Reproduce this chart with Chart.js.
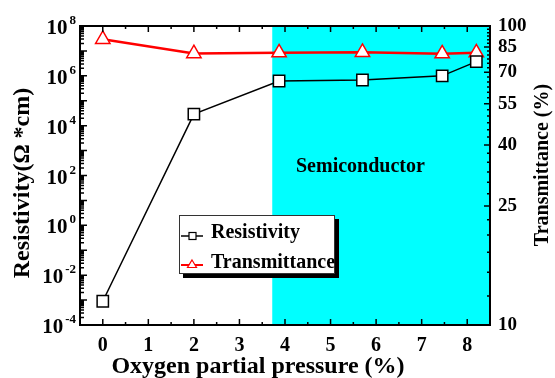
<!DOCTYPE html>
<html>
<head>
<meta charset="utf-8">
<script src="https://cdn.jsdelivr.net/npm/chart.js@4.4.1/dist/chart.umd.min.js"></script>
<style>
  html, body { margin: 0; padding: 0; background: #fff; }
</style>
</head>
<body>
<canvas id="chart" width="555" height="378"></canvas>
<script>
// values
const oxygen = [0, 2, 3.87, 5.7, 7.45, 8.2];                     // O2 partial pressure (%)
const resistivity = [9e-4, 2.9e4, 6.2e5, 6.8e5, 1.0e6, 3.7e6];   // Ohm*cm
const transmittance = [90.3, 80.9, 81.4, 81.7, 80.8, 81.4];      // %
const xTicks = [0, 1, 2, 3, 4, 5, 6, 7, 8];
const leftExponents = [-4, -2, 0, 2, 4, 6, 8];
const rightTicks = [10, 25, 40, 55, 70, 85, 100];
const semiconductorFrom = 3.72;

const FAMILY = "'Liberation Serif', 'Times New Roman', serif";
function font(size) { return 'bold ' + size + 'px ' + FAMILY; }

function line(ctx, x1, y1, x2, y2) {
    ctx.moveTo(x1, y1);
    ctx.lineTo(x2, y2);
}

// cyan region, frame, inward ticks, left labels, titles and legend
const decorations = {
    id: 'decorations',
    beforeDatasetsDraw(chart) {
        const { ctx, chartArea: a, scales } = chart;
        const x0 = scales.x.getPixelForValue(semiconductorFrom);
        ctx.save();
        ctx.fillStyle = '#00ffff';
        ctx.fillRect(x0, a.top, a.right - x0, a.bottom - a.top);
        ctx.fillStyle = '#000';
        ctx.font = font(20);
        ctx.textAlign = 'left';
        ctx.textBaseline = 'alphabetic';
        ctx.fillText('Semiconductor', 296, 172);
        ctx.restore();
    },
    afterDatasetsDraw(chart) {
        const { ctx, chartArea: a, scales } = chart;
        ctx.save();

        // ticks
        ctx.strokeStyle = '#000';
        ctx.lineWidth = 1.5;
        ctx.beginPath();
        for (let e = -4; e < 8; e++) {
            for (let m = 1; m <= 9; m++) {
                const y = scales.y.getPixelForValue(m * Math.pow(10, e));
                line(ctx, a.left, y, a.left + (m === 1 ? 7 : 4), y);
            }
        }
        for (let v = 12.5; v < 100; v += 2.5) {
            const y = scales.y2.getPixelForValue(v);
            line(ctx, a.right, y, a.right - (rightTicks.includes(v) ? 6 : 3), y);
        }
        for (let v = 0; v <= 8; v += 0.5) {
            const x = scales.x.getPixelForValue(v);
            const len = Number.isInteger(v) ? 6 : 3;
            line(ctx, x, a.bottom, x, a.bottom - len);
            line(ctx, x, a.top, x, a.top + len);
        }
        ctx.stroke();

        // frame
        ctx.lineWidth = 2;
        ctx.strokeRect(a.left, a.top, a.right - a.left, a.bottom - a.top);

        // left tick labels 10^n
        ctx.fillStyle = '#000';
        ctx.textAlign = 'right';
        ctx.textBaseline = 'alphabetic';
        leftExponents.forEach(e => {
            const y = scales.y.getPixelForValue(Math.pow(10, e));
            ctx.font = font(13);
            const ew = ctx.measureText(String(e)).width;
            ctx.fillText(String(e), 76, y - 2);
            ctx.font = font(21);
            ctx.fillText('10', 76 - ew - 2, y + 8);
        });

        // axis titles
        ctx.textAlign = 'center';
        ctx.font = font(24);
        ctx.fillText('Oxygen partial pressure (%)', 258, 373);

        ctx.textBaseline = 'middle';
        ctx.save();
        ctx.translate(23, 183);
        ctx.rotate(-Math.PI / 2);
        ctx.font = font(24);
        ctx.fillText('Resistivity(\u03A9 *cm)', 0, 0);
        ctx.restore();

        ctx.save();
        ctx.translate(543, 165);
        ctx.rotate(-Math.PI / 2);
        ctx.font = font(20);
        ctx.fillText('Transmittance (%)', 0, 0);
        ctx.restore();

        // legend box with shadow
        const lx = 179, ly = 215, lw = 156, lh = 59;
        ctx.fillStyle = '#000';
        ctx.fillRect(lx + 4, ly + 4, lw, lh);
        ctx.fillStyle = '#fff';
        ctx.fillRect(lx, ly, lw, lh);
        ctx.lineWidth = 1;
        ctx.strokeStyle = '#333';
        ctx.strokeRect(lx + 0.5, ly + 0.5, lw - 1, lh - 1);

        // legend samples
        ctx.lineWidth = 1.5;
        ctx.strokeStyle = '#000';
        ctx.beginPath();
        line(ctx, 181, 236, 203, 236);
        ctx.stroke();
        ctx.fillStyle = '#fff';
        ctx.fillRect(189, 232.5, 7, 7);
        ctx.lineWidth = 1.2;
        ctx.strokeRect(189, 232.5, 7, 7);

        ctx.strokeStyle = '#ff0000';
        ctx.lineWidth = 2;
        ctx.beginPath();
        line(ctx, 181, 265, 203, 265);
        ctx.stroke();
        ctx.lineWidth = 1.2;
        ctx.beginPath();
        ctx.moveTo(192, 260);
        ctx.lineTo(196.5, 267.5);
        ctx.lineTo(187.5, 267.5);
        ctx.closePath();
        ctx.fill();
        ctx.stroke();

        ctx.fillStyle = '#000';
        ctx.textAlign = 'left';
        ctx.textBaseline = 'alphabetic';
        ctx.font = font(20);
        ctx.fillText('Resistivity', 211, 238);
        ctx.fillText('Transmittance', 211, 268);

        ctx.restore();
    }
};

new Chart(document.getElementById('chart'), {
    type: 'line',
    data: {
        datasets: [{
            label: 'Resistivity',
            data: oxygen.map((x, i) => ({ x: x, y: resistivity[i] })),
            yAxisID: 'y',
            borderColor: '#000',
            borderWidth: 1.5,
            pointStyle: 'rect',
            pointRadius: 8,
            pointBackgroundColor: '#fff',
            pointBorderColor: '#000',
            pointBorderWidth: 1.5
        }, {
            label: 'Transmittance',
            data: oxygen.map((x, i) => ({ x: x, y: transmittance[i] })),
            yAxisID: 'y2',
            borderColor: '#ff0000',
            borderWidth: 2.5,
            pointStyle: 'triangle',
            pointRadius: 8.3,
            pointBackgroundColor: '#fff',
            pointBorderColor: '#ff0000',
            pointBorderWidth: 1.5
        }]
    },
    options: {
        responsive: false,
        devicePixelRatio: 1,
        animation: false,
        layout: { padding: { top: 26, left: 0, right: 0, bottom: 0 } },
        plugins: {
            legend: { display: false },
            tooltip: { enabled: false }
        },
        scales: {
            x: {
                type: 'linear',
                min: -0.5,
                max: 8.5,
                afterBuildTicks: s => { s.ticks = xTicks.map(v => ({ value: v })); },
                afterFit: s => { s.height = 53; },
                grid: { display: false, drawTicks: false },
                border: { display: false },
                ticks: {
                    color: '#000',
                    padding: 9,
                    maxRotation: 0,
                    font: { family: FAMILY, size: 20, weight: 'bold' }
                }
            },
            y: {
                type: 'logarithmic',
                position: 'left',
                min: 1e-4,
                max: 1e8,
                afterFit: s => { s.width = 80; },
                grid: { display: false, drawTicks: false },
                border: { display: false },
                ticks: { display: false }
            },
            y2: {
                type: 'logarithmic',
                position: 'right',
                min: 10,
                max: 100,
                afterBuildTicks: s => { s.ticks = rightTicks.map(v => ({ value: v })); },
                afterFit: s => { s.width = 65; },
                grid: { display: false, drawTicks: false },
                border: { display: false },
                ticks: {
                    color: '#000',
                    padding: 8,
                    font: { family: FAMILY, size: 19, weight: 'bold' },
                    callback: v => String(v)
                }
            }
        }
    },
    plugins: [decorations]
});
</script>
</body>
</html>
